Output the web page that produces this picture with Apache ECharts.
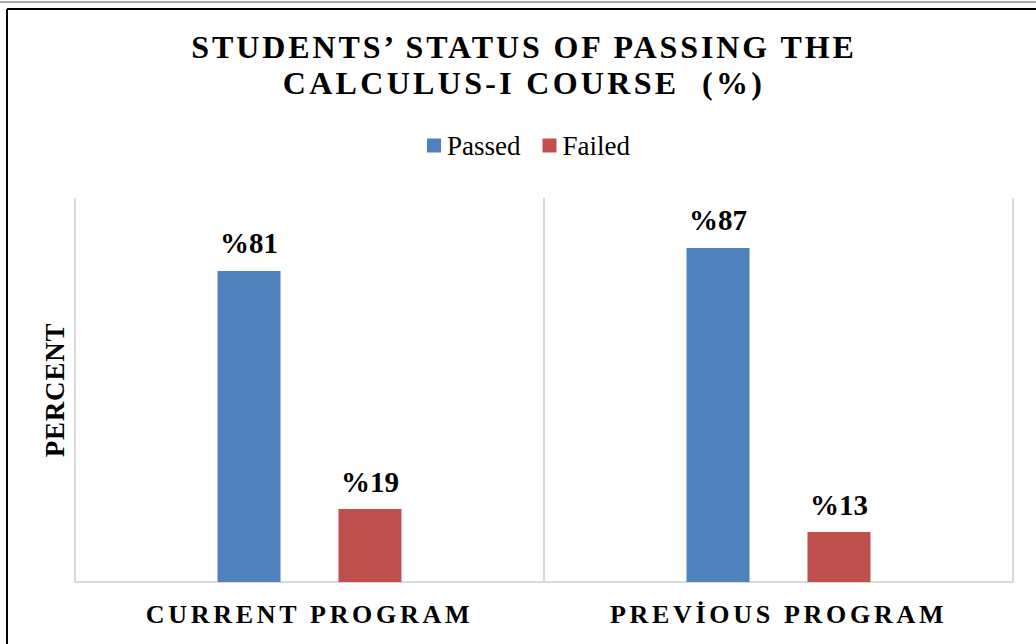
<!DOCTYPE html>
<html><head><meta charset="utf-8">
<script src="https://cdn.jsdelivr.net/npm/echarts@6/dist/echarts.min.js"></script>
<style>
html,body{margin:0;padding:0;background:#fff;}
#chart{width:1036px;height:644px;}
#chart svg text{white-space:pre;}
</style></head><body><div id="chart"></div>
<script>
const titleLines = ['STUDENTS\u2019 STATUS OF PASSING THE', 'CALCULUS-I COURSE  (%)'];
const categories = ['CURRENT PROGRAM', 'PREV\u0130OUS PROGRAM'];
const seriesNames = ['Passed', 'Failed'];
const passed = [81, 87];
const failed = [19, 13];
const yAxisName = 'PERCENT';
const valuePrefix = '%';

const SERIF = "'Liberation Serif', 'Times New Roman', serif";
const GRID = '#d9d9d9';
const chart = echarts.init(document.getElementById('chart'), null, {renderer: 'svg'});

const spacing = {};
spacing[titleLines[0]] = 2.9;
spacing[titleLines[1]] = 3.3;
categories.forEach(c => spacing[c] = 3.7);
spacing[yAxisName] = 0.8;
chart.on('finished', () => {
  document.querySelectorAll('#chart svg text').forEach(el => {
    const s = spacing[el.textContent];
    if (s != null) el.style.letterSpacing = s + 'px';
  });
});

const labelOpt = {
  show: true, position: 'top', distance: 13,
  fontFamily: SERIF, fontSize: 29, fontWeight: 'bold', color: '#000',
  formatter: p => valuePrefix + p.value
};

chart.setOption({
  animation: false,
  backgroundColor: '#fff',
  title: {
    text: titleLines.join('\n'),
    left: 519, top: 24, textAlign: 'center',
    textStyle: {fontFamily: SERIF, fontSize: 32, fontWeight: 'bold', lineHeight: 36, color: '#000'}
  },
  legend: {
    data: seriesNames, left: 427, top: 132, padding: 0,
    icon: 'rect', itemWidth: 14, itemHeight: 14, itemGap: 22,
    textStyle: {fontFamily: SERIF, fontSize: 27, color: '#000', padding: [0, 0, 0, 1]}
  },
  grid: {left: 75, right: 23, top: 198, bottom: 62, containLabel: false},
  xAxis: {
    type: 'category', data: categories,
    axisLine: {show: true, lineStyle: {color: GRID, width: 2}},
    axisTick: {show: false},
    splitLine: {show: true, interval: 0, lineStyle: {color: GRID, width: 2}},
    axisLabel: {margin: 19, fontFamily: SERIF, fontSize: 26, fontWeight: 'bold', color: '#000', interval: 0}
  },
  yAxis: {
    type: 'value', min: 0, max: 100, interval: 20,
    axisLabel: {show: false}, axisLine: {show: false}, axisTick: {show: false}, splitLine: {show: false},
    name: yAxisName, nameLocation: 'middle', nameGap: 7,
    nameTextStyle: {fontFamily: SERIF, fontSize: 27, fontWeight: 'bold', color: '#000'}
  },
  series: [
    {name: seriesNames[0], type: 'bar', data: passed, barWidth: 63, barGap: '92%',
     itemStyle: {color: '#4f81bd'}, label: labelOpt},
    {name: seriesNames[1], type: 'bar', data: failed, barWidth: 63, barGap: '92%',
     itemStyle: {color: '#c0504d'}, label: labelOpt}
  ],
  graphic: [
    {type: 'line', shape: {x1: 0, y1: 2, x2: 1036, y2: 2}, style: {stroke: '#a6a6a6', lineWidth: 2}, silent: true},
    {type: 'line', shape: {x1: 7, y1: 9, x2: 1036, y2: 9}, style: {stroke: '#000', lineWidth: 2}, silent: true},
    {type: 'line', shape: {x1: 7, y1: 9, x2: 7, y2: 644}, style: {stroke: '#000', lineWidth: 2}, silent: true}
  ]
});
</script></body></html>
